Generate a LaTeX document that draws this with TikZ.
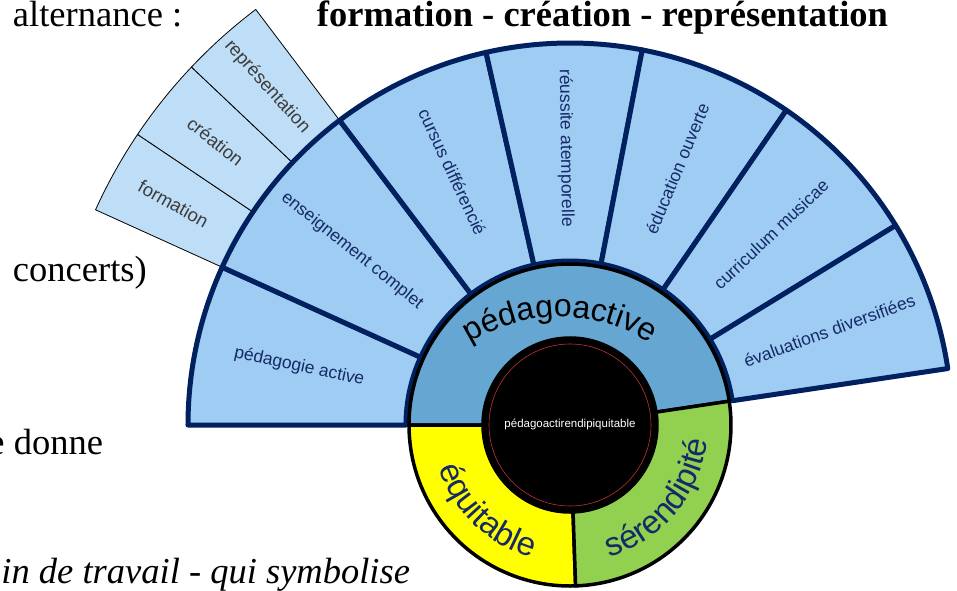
\documentclass[tikz,border=0pt]{standalone}
\usepackage{fontspec}
\setmainfont{Liberation Serif}
\newfontfamily\arialf{Liberation Sans}
\usetikzlibrary{decorations.text}
\definecolor{fanblue}{RGB}{158,204,242}
\definecolor{fanlight}{RGB}{190,222,247}
\definecolor{navy}{RGB}{0,32,96}
\definecolor{navytext}{RGB}{22,42,104}
\definecolor{ringblue}{RGB}{102,166,210}
\definecolor{ringyellow}{RGB}{255,255,0}
\definecolor{ringgreen}{RGB}{146,208,80}
\definecolor{graytext}{RGB}{60,60,60}
\definecolor{thinred}{RGB}{190,50,50}
\newcommand\wsector[5]{\path[#1] (#2:#4) arc[start angle=#2,end angle=#3,radius=#4] -- (#3:#5) arc[start angle=#3,end angle=#2,radius=#5] -- cycle;}
\tikzset{
  fanpart/.style={fill=fanblue, draw=navy, line width=5pt, line join=round},
  smallpart/.style={fill=fanlight, draw=black, line width=0.8pt, line join=round},
  ringpart/.style={draw=black, line width=3.5pt, line join=round},
  fantext/.style={font=\arialf\fontsize{17.5}{20}\selectfont, text=navytext, inner sep=0pt},
  smalltext/.style={font=\arialf\fontsize{18.5}{20}\selectfont, text=graytext, inner sep=0pt},
  serif/.style={font=\fontsize{36.5}{40}\selectfont, inner sep=0pt, outer sep=0pt},
}
\begin{document}
\begin{tikzpicture}[x=1pt,y=1pt]
\clip (-570,-165) rectangle (387,425);
\fill[white] (-570,-165) rectangle (387,425);
% background text
\node[serif, anchor=base west] (t1) at (-557,398) {alternance :};
\node[serif, anchor=base west] (t2) at (-253,398) {\bfseries formation - création - représentation};
\node[serif, anchor=base west] (t3) at (-557,144) {concerts)};
\node[serif, anchor=base east] (t4) at (-467,-29) {e donne};
\node[serif, anchor=base east] (t5) at (-160,-158) {\itshape in de travail - qui symbolise};
% small fan
\wsector{smallpart}{146.1}{155.6}{382pt}{521pt}
\wsector{smallpart}{136.6}{146.1}{382pt}{521pt}
\wsector{smallpart}{127.1}{136.6}{382pt}{521pt}
% main fan
\wsector{fanpart}{155.6}{180}{164pt}{382pt}
\wsector{fanpart}{127.1}{155.6}{164pt}{382pt}
\wsector{fanpart}{102.7}{127.1}{164pt}{382pt}
\wsector{fanpart}{79.1}{102.7}{164pt}{382pt}
\wsector{fanpart}{55.5}{79.1}{164pt}{382pt}
\wsector{fanpart}{31.5}{55.5}{164pt}{382pt}
\wsector{fanpart}{8.5}{31.5}{164pt}{382pt}
% ring
\wsector{ringpart, fill=ringblue}{8.5}{180}{87pt}{161pt}
\wsector{ringpart, fill=ringyellow}{180}{272}{87pt}{161pt}
\wsector{ringpart, fill=ringgreen}{272}{368.5}{87pt}{161pt}
% centre
\fill[black] (0,0) circle[radius=88pt];
\draw[thinred, line width=0.6pt] (0,0) circle[radius=81pt];
\node[font=\arialf\fontsize{11.5}{13}\selectfont, text=white, inner sep=0pt] (c) at (0,1) {pédagoactirendipiquitable};
% fan texts
\node[fantext, rotate=-12.2] (f1) at (167.8:277pt) {pédagogie active};
\node[fantext, rotate=-38.65] (f2) at (141.35:279pt) {enseignement complet};
\node[fantext, rotate=-65.1] (f3) at (114.9:279pt) {cursus différencié};
\node[fantext, rotate=-89.1] (f4) at (90.9:277pt) {réussite atemporelle};
\node[fantext, rotate=67.3] (f5) at (67.3:278pt) {éducation ouverte};
\node[fantext, rotate=43.5] (f6) at (43.5:277pt) {curriculum musicae};
\node[fantext, rotate=20] (f7) at (20:276pt) {évaluations diversifiées};
% small fan texts
\node[smalltext, rotate=-29.15] (s1) at (150.85:454pt) {formation};
\node[smalltext, rotate=-38.65] (s2) at (141.35:454pt) {création};
\node[smalltext, rotate=-48.15] (s3) at (131.85:454pt) {représentation};
% ring texts
\path[decorate, decoration={text along path, text align=center,
  text={|\arialf\fontsize{32}{36}\selectfont\color{black}|pédagoactive}}]
  (-10,-62) ++(150:170pt) arc[start angle=150, end angle=30, radius=170pt];
\path[decorate, decoration={text along path, text align=center,
  text={|\arialf\fontsize{33}{36}\selectfont\color{navytext}|équitable}}]
  (180:138pt) arc[start angle=180, end angle=272, radius=138pt];
\path[decorate, decoration={text along path, text align=center,
  text={|\arialf\fontsize{33}{36}\selectfont\color{navytext}|sérendipité}}]
  (272:138pt) arc[start angle=272, end angle=368.5, radius=138pt];
\end{tikzpicture}
\end{document}
